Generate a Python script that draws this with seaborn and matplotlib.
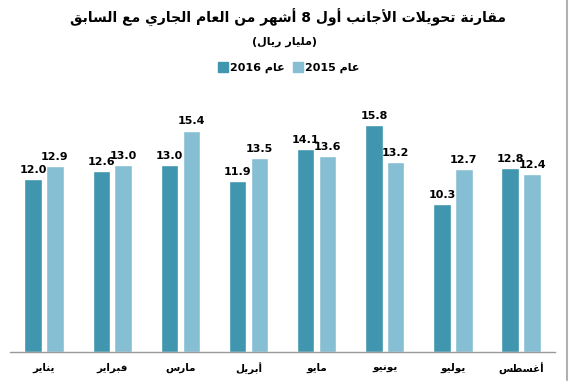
import re

import pandas as pd
import matplotlib.pyplot as plt
import seaborn as sns
from matplotlib.lines import Line2D

# data (billion riyals)
months = ["يناير", "فبراير", "مارس", "أبريل", "مايو", "يونيو", "يوليو", "أغسطس"]
values_2016 = [12.0, 12.6, 13.0, 11.9, 14.1, 15.8, 10.3, 12.8]
values_2015 = [12.9, 13.0, 15.4, 13.5, 13.6, 13.2, 12.7, 12.4]
years = ["2016", "2015"]
colors = ["#3f96ae", "#86bfd3"]

title = "مقارنة تحويلات الأجانب أول 8 أشهر من العام الجاري مع السابق"
subtitle = "(مليار ريال)"
year_word = "عام"

# --- minimal arabic shaping + rtl ordering (matplotlib has no shaper) ---
# letter: (isolated, final, initial, medial); two entries = right-joining only
FORMS = {
    "ء": (0xFE80,), "آ": (0xFE81, 0xFE82), "أ": (0xFE83, 0xFE84),
    "ؤ": (0xFE85, 0xFE86), "إ": (0xFE87, 0xFE88), "ئ": (0xFE89, 0xFE8A, 0xFE8B, 0xFE8C),
    "ا": (0xFE8D, 0xFE8E), "ب": (0xFE8F, 0xFE90, 0xFE91, 0xFE92), "ة": (0xFE93, 0xFE94),
    "ت": (0xFE95, 0xFE96, 0xFE97, 0xFE98), "ث": (0xFE99, 0xFE9A, 0xFE9B, 0xFE9C),
    "ج": (0xFE9D, 0xFE9E, 0xFE9F, 0xFEA0), "ح": (0xFEA1, 0xFEA2, 0xFEA3, 0xFEA4),
    "خ": (0xFEA5, 0xFEA6, 0xFEA7, 0xFEA8), "د": (0xFEA9, 0xFEAA), "ذ": (0xFEAB, 0xFEAC),
    "ر": (0xFEAD, 0xFEAE), "ز": (0xFEAF, 0xFEB0), "س": (0xFEB1, 0xFEB2, 0xFEB3, 0xFEB4),
    "ش": (0xFEB5, 0xFEB6, 0xFEB7, 0xFEB8), "ص": (0xFEB9, 0xFEBA, 0xFEBB, 0xFEBC),
    "ض": (0xFEBD, 0xFEBE, 0xFEBF, 0xFEC0), "ط": (0xFEC1, 0xFEC2, 0xFEC3, 0xFEC4),
    "ظ": (0xFEC5, 0xFEC6, 0xFEC7, 0xFEC8), "ع": (0xFEC9, 0xFECA, 0xFECB, 0xFECC),
    "غ": (0xFECD, 0xFECE, 0xFECF, 0xFED0), "ف": (0xFED1, 0xFED2, 0xFED3, 0xFED4),
    "ق": (0xFED5, 0xFED6, 0xFED7, 0xFED8), "ك": (0xFED9, 0xFEDA, 0xFEDB, 0xFEDC),
    "ل": (0xFEDD, 0xFEDE, 0xFEDF, 0xFEE0), "م": (0xFEE1, 0xFEE2, 0xFEE3, 0xFEE4),
    "ن": (0xFEE5, 0xFEE6, 0xFEE7, 0xFEE8), "ه": (0xFEE9, 0xFEEA, 0xFEEB, 0xFEEC),
    "و": (0xFEED, 0xFEEE), "ى": (0xFEEF, 0xFEF0), "ي": (0xFEF1, 0xFEF2, 0xFEF3, 0xFEF4),
}
LAM_ALEF = {"آ": (0xFEF5, 0xFEF6), "أ": (0xFEF7, 0xFEF8), "إ": (0xFEF9, 0xFEFA), "ا": (0xFEFB, 0xFEFC)}
MIRROR = {"(": ")", ")": "("}


def dual(c):
    return c in FORMS and len(FORMS[c]) == 4


def shape(text):
    out = []
    i = 0
    while i < len(text):
        c = text[i]
        if c not in FORMS:
            out.append(c)
            i += 1
            continue
        prev = text[i - 1] if i > 0 else ""
        joins_prev = dual(prev) and len(FORMS[c]) > 1
        if c == "ل" and i + 1 < len(text) and text[i + 1] in LAM_ALEF:
            out.append(chr(LAM_ALEF[text[i + 1]][1 if joins_prev else 0]))
            i += 2
            continue
        nxt = text[i + 1] if i + 1 < len(text) else ""
        joins_next = dual(c) and nxt in FORMS and len(FORMS[nxt]) > 1
        form = (2 if joins_next else 0) + (1 if joins_prev else 0)
        out.append(chr(FORMS[c][form]))
        i += 1
    return out


def ar(text):
    chars = shape(text)[::-1]
    chars = [MIRROR.get(c, c) for c in chars]
    s = "".join(chars)
    # digit runs stay left-to-right
    return re.sub(r"[0-9.]+", lambda m: m.group(0)[::-1], s)


df = pd.DataFrame({
    "month": [ar(m) for m in months] * 2,
    "year": [years[0]] * len(months) + [years[1]] * len(months),
    "value": values_2016 + values_2015,
})

sns.set_style("white")
plt.rcParams["font.family"] = ["DejaVu Sans"]
plt.rcParams["text.color"] = "black"
plt.rcParams["xtick.color"] = "black"

fig = plt.figure(figsize=(5.7, 3.9), dpi=100)
ax = fig.add_axes([0.0175, 0.0974, 0.9565, 0.697])

sns.barplot(
    data=df, x="month", y="value", hue="year",
    order=[ar(m) for m in months], hue_order=years,
    palette=colors, width=0.64, gap=0.2, saturation=1,
    legend=False, ax=ax,
)

for cont in ax.containers:
    ax.bar_label(cont, fmt="%.1f", padding=3, fontsize=8, fontweight="bold", color="black")

ax.set_ylim(0, 18.9)
ax.set_xlim(-0.5, len(months) - 0.5)
ax.set_xlabel("")
ax.set_ylabel("")
ax.set_yticks([])
ax.tick_params(axis="x", length=0, pad=8, labelsize=7.5, labelcolor="black")
for lbl in ax.get_xticklabels():
    lbl.set_fontweight("bold")
sns.despine(ax=ax, left=True)
ax.spines["bottom"].set_color("#999999")
ax.spines["bottom"].set_linewidth(1)

fig.text(0.505, 0.953, ar(title), ha="center", va="center",
         fontsize=10, fontweight="bold")
fig.text(0.5, 0.893, ar(subtitle), ha="center", va="center",
         fontsize=8, fontweight="bold")

handles = [Line2D([], [], marker="s", linestyle="", markersize=6.5, color=c) for c in colors]
labels = [y + " " + ar(year_word) for y in years]
fig.legend(handles, labels, ncol=2, loc="center", bbox_to_anchor=(0.505, 0.826),
           frameon=False, handletextpad=0.0, columnspacing=0.6, handlelength=1.2,
           prop={"weight": "bold", "size": 8})

# grey frame line on the right edge
fig.add_artist(Line2D([0.994, 0.994], [0.025, 1.0], color="#b0b0b0", linewidth=1.5))

fig.savefig("out.png", dpi=100)
